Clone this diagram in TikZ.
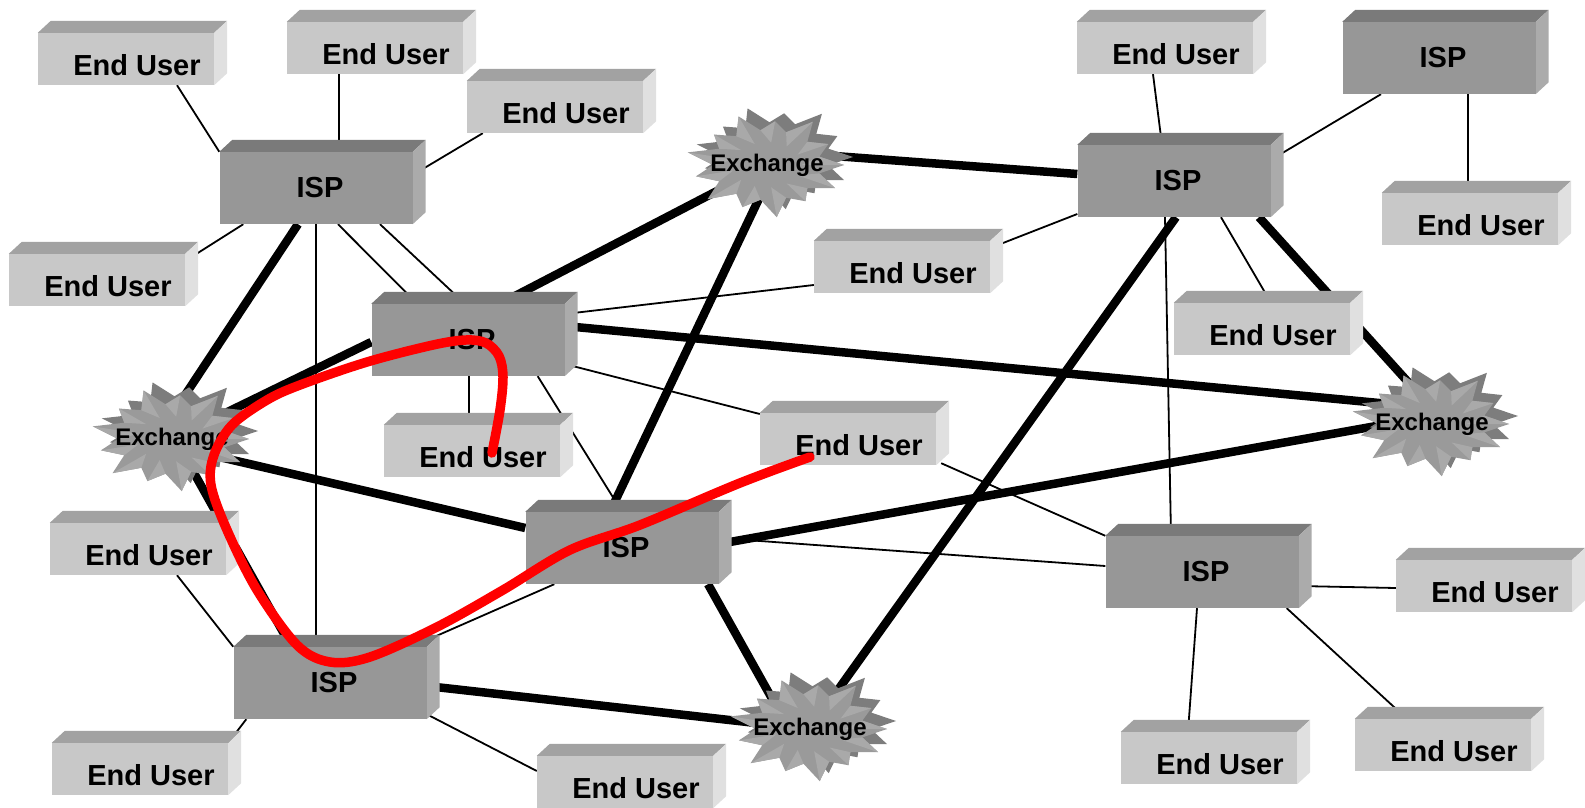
\documentclass[tikz,border=0pt]{standalone}
\usepackage{fontspec}
\setmainfont{Liberation Sans}
\usetikzlibrary{calc}

\pgfdeclarelayer{background}
\pgfsetlayers{background,main}

\definecolor{ispfront}{HTML}{979797}
\definecolor{isptop}{HTML}{7A7A7A}
\definecolor{ispside}{HTML}{ABABAB}
\definecolor{eufront}{HTML}{C8C8C8}
\definecolor{eutop}{HTML}{A2A2A2}
\definecolor{euside}{HTML}{E0E0E0}
\definecolor{exfront}{HTML}{9A9A9A}
\definecolor{exback}{HTML}{7D7D7D}
\definecolor{exfacet}{HTML}{A9A9A9}

\tikzset{
  box3d/.style n args={3}{rectangle, inner sep=0pt, fill=#1,
    append after command={\pgfextra{
      \fill[#2] (\tikzlastnode.north west) -- ++(13,-12) -- ($(\tikzlastnode.north east)+(13,-12)$) -- (\tikzlastnode.north east) -- cycle;
      \fill[#3] (\tikzlastnode.north east) -- ++(13,-12) -- ($(\tikzlastnode.south east)+(13,-12)$) -- (\tikzlastnode.south east) -- cycle;
    }}},
  boxtext/.style={font=\fontsize{29}{34}\selectfont\bfseries, inner sep=0pt},
  extext/.style={font=\fontsize{24}{28}\selectfont\bfseries, inner sep=0pt},
  isp/.style={box3d={ispfront}{isptop}{ispside}, minimum width=193pt, minimum height=72pt,
    label={[boxtext, xshift=4pt]center:ISP}},
  enduser/.style={box3d={eufront}{eutop}{euside}, minimum width=176pt, minimum height=52pt,
    label={[boxtext, xshift=11pt, yshift=-6pt]center:End User}},
  thin link/.style={line width=1.8pt},
  trunk/.style={line width=8.5pt},
  scribble/.style={red, line width=9.5pt, line cap=round, line join=round},
}

% spikes of an exchange star: angle/radius
\def\exspikes{0/1.0, 27.7/0.9, 55.4/1.05, 83.1/0.88, 110.8/1.04, 138.5/0.92, 166.2/1.06, 193.8/0.95, 221.5/1.03, 249.2/0.9, 276.9/1.05, 304.6/0.88, 332.3/1.0}
\def\starpath{(77,0) foreach \a/\r in \exspikes {-- ({77*\r*cos(\a)},{50*\r*sin(\a)}) -- ({77*0.7*cos(\a+13.85)},{50*0.7*sin(\a+13.85)})} -- cycle}

\newcommand{\exchange}[3]{%
  \begin{scope}[shift={(#2,#3)}, y=1pt]
    \fill[exback, shift={(9,8)}] \starpath;
    \fill[exfront] \starpath;
    \foreach \a/\r in \exspikes
      \fill[exfacet] ({77*0.45*cos(\a)},{50*0.45*sin(\a)}) -- ({77*\r*cos(\a)},{50*\r*sin(\a)}) -- ({77*0.7*cos(\a+13.85)},{50*0.7*sin(\a+13.85)}) -- cycle;
  \end{scope}
  \node[extext] (#1) at (#2,#3) {Exchange};
}

\begin{document}
\begin{tikzpicture}[x=1pt, y=-1pt]
  \useasboundingbox (0,0) rectangle (1585,808);

  % ISPs and end users
  \node[enduser] (eu1)  at (126,59)   {};
  \node[enduser] (eu2)  at (375,48)   {};
  \node[enduser] (eu3)  at (555,107)  {};
  \node[enduser] (eu4)  at (97,280)   {};
  \node[isp]     (isp1) at (316,188)  {};
  \node[isp]     (isp2) at (468,340)  {};
  \node[enduser] (eu5)  at (472,451)  {};
  \node[enduser] (eu6)  at (138,549)  {};
  \node[isp]     (isp3) at (330,683)  {};
  \node[enduser] (eu7)  at (140,769)  {};
  \node[enduser] (eu8)  at (625,782)  {};
  \node[isp]     (isp4) at (622,548)  {};
  \node[enduser] (eu9)  at (848,439)  {};
  \node[enduser] (eu10) at (902,267)  {};
  \node[enduser] (eu11) at (1165,48)  {};
  \node[isp]     (isp5) at (1174,181) {};
  \node[isp]     (isp6) at (1439,58)  {};
  \node[enduser] (eu12) at (1470,219) {};
  \node[enduser] (eu13) at (1262,329) {};
  \node[isp]     (isp7) at (1202,572) {};
  \node[enduser] (eu14) at (1484,586) {};
  \node[enduser] (eu15) at (1209,758) {};
  \node[enduser] (eu16) at (1443,745) {};

  % exchanges
  \exchange{ex1}{172}{439}
  \exchange{ex2}{767}{165}
  \exchange{ex3}{810}{729}
  \exchange{ex4}{1432}{424}

  \begin{pgfonlayer}{background}
    % access lines
    \draw[thin link] ($(eu1.south)+(51,0)$) -- (isp1.north west);
    \draw[thin link] ($(eu2.south)+(-36,0)$) -- ($(isp1.north)+(23,0)$);
    \draw[thin link] ($(eu3.south west)+(16,0)$) -- ($(isp1.east)+(0,-13)$);
    \draw[thin link] ($(eu4.east)+(0,-19)$) -- ($(isp1.south west)+(24,0)$);
    \draw[thin link] ($(isp1.south)+(22,0)$) -- ($(isp2.north west)+(46,0)$);
    \draw[thin link] ($(isp1.south)+(64,0)$) -- ($(isp2.north)+(-3,0)$);
    \draw[thin link] (isp1.south) -- ($(isp3.north)+(-14,0)$);
    \draw[thin link] ($(isp2.east)+(0,-26)$) -- ($(eu10.west)+(0,18)$);
    \draw[thin link] ($(isp2.south)+(1,0)$) -- ($(eu5.north)+(-3,0)$);
    \draw[thin link] ($(isp2.east)+(0,24)$) -- ($(eu9.west)+(0,-25)$);
    \draw[thin link] ($(isp2.south east)+(-27,0)$) -- (isp4.north);
    \draw[thin link] ($(eu6.south)+(39,0)$) -- (isp3.north west);
    \draw[thin link] ($(isp3.south west)+(13,0)$) -- (eu7.north east);
    \draw[thin link] ($(isp3.south east)+(0,-5)$) -- ($(eu8.west)+(0,-11)$);
    \draw[thin link] ($(isp3.north east)+(10,-11)$) -- ($(isp4.south west)+(29,0)$);
    \draw[thin link] ($(isp4.east)+(0,-10)$) -- ($(isp7.west)+(0,-6)$);
    \draw[thin link] ($(eu9.south east)+(5,-2)$) -- (isp7.north west);
    \draw[thin link] ($(eu10.east)+(0,-19)$) -- ($(isp5.west)+(0,33)$);
    \draw[thin link] ($(eu11.south)+(-12,0)$) -- ($(isp5.north)+(-12,0)$);
    \draw[thin link] ($(isp5.east)+(0,-21)$) -- ($(isp6.south)+(-58,0)$);
    \draw[thin link] ($(isp6.south)+(29,0)$) -- ($(eu12.north)+(-2,0)$);
    \draw[thin link] ($(isp5.south)+(47,0)$) -- ($(eu13.north)+(9,0)$);
    \draw[thin link] ($(isp5.south)+(-9,0)$) -- ($(isp7.north)+(-31,0)$);
    \draw[thin link] ($(isp7.east)+(0,14)$) -- ($(eu14.west)+(0,2)$);
    \draw[thin link] ($(isp7.south)+(-5,0)$) -- ($(eu15.north)+(-21,0)$);
    \draw[thin link] ($(isp7.south east)+(-12,0)$) -- ($(eu16.north west)+(52,0)$);

    % trunk lines
    \draw[trunk] ($(isp1.south)+(-18,0)$) -- ($(ex1)+(-16,0)$);
    \draw[trunk] (ex1) -- ($(isp2.west)+(0,2)$);
    \draw[trunk] ($(ex1)+(0,7)$) -- ($(isp4.west)+(0,-20)$);
    \draw[trunk] ($(ex1)+(3,0)$) -- ($(isp3.north west)+(58,0)$);
    \draw[trunk] ($(isp2.north)+(32,0)$) -- (ex2);
    \draw[trunk] ($(isp2.east)+(0,-14)$) -- ($(ex4)+(0,-16)$);
    \draw[trunk] ($(ex2)+(0,-14)$) -- ($(isp5.west)+(0,-7)$);
    \draw[trunk] ($(ex2)+(8,0)$) -- ($(isp4.north)+(-12,0)$);
    \draw[trunk] ($(isp4.east)+(0,-4)$) -- ($(ex4)+(0,-8)$);
    \draw[trunk] ($(isp4.south)+(86,0)$) -- ($(ex3)+(-21,0)$);
    \draw[trunk] ($(isp3.east)+(0,3)$) -- (ex3);
    \draw[trunk] ($(isp5.south)+(2,0)$) -- (ex3);
    \draw[trunk] ($(isp5.south)+(85,0)$) -- ($(ex4)+(14,0)$);
  \end{pgfonlayer}

  % red path
  \draw[scribble] plot[smooth, tension=0.55] coordinates {(492,453) (500,410) (503,377) (499,356) (486,343) (466,340) (433,345) (367,362) (300,385) (267,400) (232,425) (214,455) (211,485) (227,530) (257,590) (297,645) (330,662) (370,657) (437,627) (503,590) (570,550) (640,525) (740,483) (810,457)};
\end{tikzpicture}
\end{document}
